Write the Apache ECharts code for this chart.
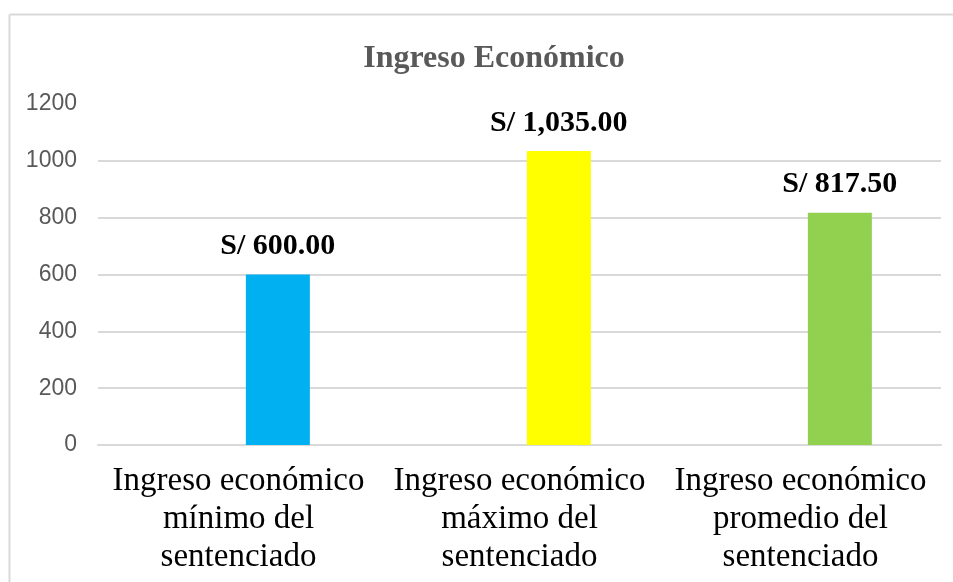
<!DOCTYPE html>
<html>
<head>
<meta charset="utf-8">
<script src="https://cdn.jsdelivr.net/npm/echarts@6/dist/echarts.min.js"></script>
<style>
  html, body { margin: 0; padding: 0; background: #fff; overflow: hidden; }
  #chart { width: 953px; height: 582px; }
</style>
</head>
<body>
<div id="chart"></div>
<script>
'use strict';

const categories = [
  'Ingreso económico\nmínimo del\nsentenciado',
  'Ingreso económico\nmáximo del\nsentenciado',
  'Ingreso económico\npromedio del\nsentenciado',
];
const ingresos = [600, 1035, 817.5];
const barColors = ['#00B0F0', '#FFFF00', '#92D050'];
// empty slot that Excel kept to the left of each bar
const placeholder = [null, null, null];

const GRID = '#d9d9d9';

const money = (v) =>
  'S/ ' + v.toLocaleString('en-US', { minimumFractionDigits: 2, maximumFractionDigits: 2 });

const chart = echarts.init(document.getElementById('chart'));

chart.setOption({
  animation: false,
  backgroundColor: '#fff',
  title: {
    text: 'Ingreso Económico',
    left: 489,
    top: 38,
    textAlign: 'center',
    textStyle: {
      fontFamily: 'Liberation Serif',
      fontWeight: 'bold',
      fontSize: 32,
      color: '#595959',
    },
  },
  graphic: [
    // chart area border: only the left and top edges are inside the picture
    {
      type: 'line',
      shape: { x1: 9.5, y1: 14.5, x2: 9.5, y2: 600 },
      style: { stroke: GRID, lineWidth: 2 },
      silent: true,
    },
    {
      type: 'line',
      shape: { x1: 9.5, y1: 14.5, x2: 960, y2: 14.5 },
      style: { stroke: GRID, lineWidth: 2 },
      silent: true,
    },
  ],
  grid: {
    left: 98,
    right: 12,
    top: 104,
    bottom: 137,
  },
  xAxis: {
    type: 'category',
    data: categories,
    axisLine: { show: true, lineStyle: { color: GRID, width: 2 } },
    axisTick: { show: false },
    axisLabel: {
      interval: 0,
      margin: 17,
      fontFamily: 'Liberation Serif',
      fontSize: 33,
      lineHeight: 38,
      color: '#000',
    },
  },
  yAxis: {
    type: 'value',
    min: 0,
    max: 1200,
    interval: 200,
    axisLine: { show: false },
    axisTick: { show: false },
    axisLabel: {
      margin: 21,
      fontFamily: 'Liberation Sans',
      fontSize: 23,
      color: '#595959',
      formatter: (v) => String(v),
    },
    splitLine: {
      lineStyle: {
        color: [GRID, GRID, GRID, GRID, GRID, GRID, 'rgba(0,0,0,0)'],
        width: 2,
      },
    },
  },
  series: [
    {
      name: 'vacío',
      type: 'bar',
      data: placeholder,
      barWidth: 64,
      barGap: '23%',
    },
    {
      name: 'Ingreso Económico',
      type: 'bar',
      barWidth: 64,
      barGap: '23%',
      data: ingresos.map((v, i) => ({ value: v, itemStyle: { color: barColors[i] } })),
      label: {
        show: true,
        position: 'top',
        distance: 13,
        formatter: (p) => money(p.value),
        fontFamily: 'Liberation Serif',
        fontWeight: 'bold',
        fontSize: 30,
        color: '#000',
      },
    },
  ],
});
</script>
</body>
</html>
